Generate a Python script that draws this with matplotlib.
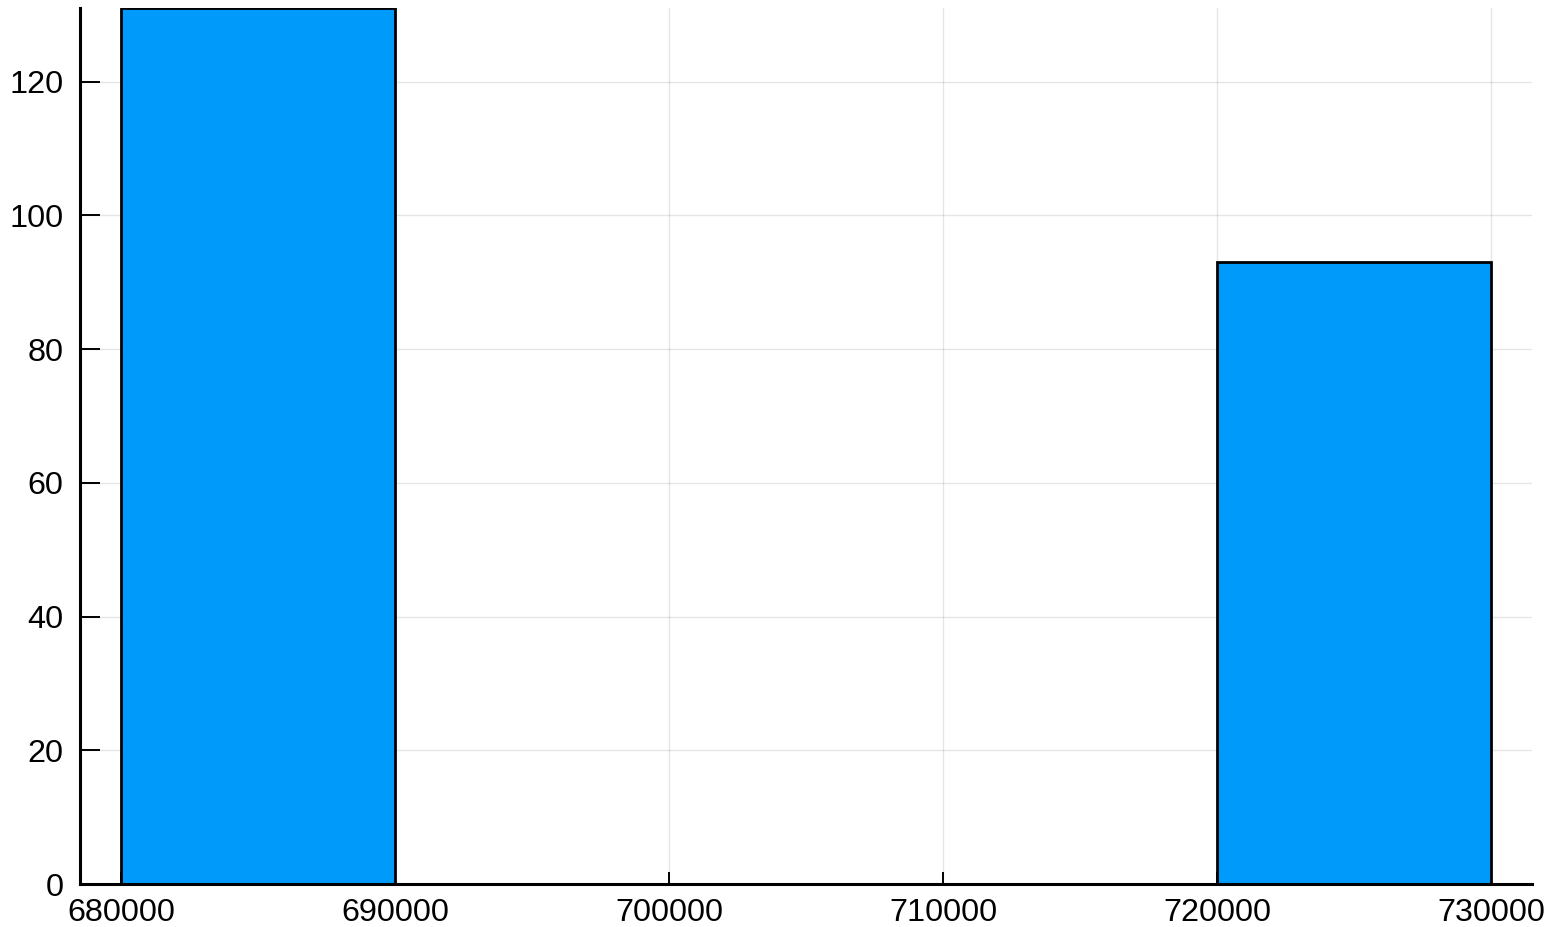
from matplotlib import pyplot as plt
import numpy as np

plt.rcParams['font.family'] = ['Liberation Sans', 'DejaVu Sans']

# histogram bins (edges) and counts
bin_edges = np.array([680000, 690000, 700000, 710000, 720000, 730000])
counts = np.array([131, 0, 0, 0, 93])

x_ticks = [680000, 690000, 700000, 710000, 720000, 730000]
y_ticks = [0, 20, 40, 60, 80, 100, 120]

fig = plt.figure(figsize=(15.56, 9.27), dpi=100)
ax = fig.add_axes([80 / 1556, 43 / 927, 1452 / 1556, 876 / 927])

widths = np.diff(bin_edges)
mask = counts > 0
ax.bar(bin_edges[:-1][mask], counts[mask], width=widths[mask], align='edge',
       color='#009AFA', edgecolor='black', linewidth=2.0, zorder=2)

ax.set_xlim(678500, 731500)
ax.set_ylim(0, 131)
ax.set_xticks(x_ticks)
ax.set_xticklabels([str(t) for t in x_ticks])
ax.set_yticks(y_ticks)

ax.grid(True, color='black', alpha=0.1, linewidth=1.0, zorder=0)
ax.set_axisbelow(True)

for s in ['top', 'right']:
    ax.spines[s].set_visible(False)
for s in ['left', 'bottom']:
    ax.spines[s].set_linewidth(2.2)
    ax.spines[s].set_zorder(3)

ax.tick_params(axis='x', direction='in', length=8.5, width=1.4, labelsize=23.3, pad=10)
ax.tick_params(axis='y', direction='in', length=14.4, width=1.4, labelsize=23.3, pad=12)

plt.savefig('out.png', dpi=100)
